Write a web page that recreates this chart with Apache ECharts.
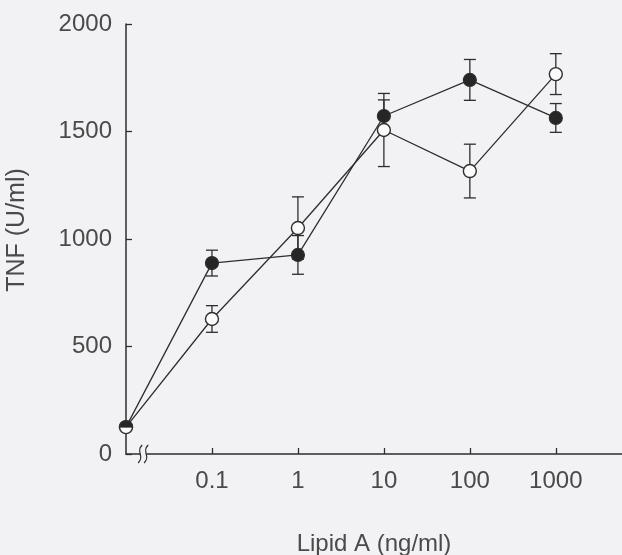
<!DOCTYPE html>
<html>
<head>
<meta charset="utf-8">
<script src="https://cdn.jsdelivr.net/npm/echarts@6/dist/echarts.min.js"></script>
<style>
  html, body { margin: 0; padding: 0; background: #f2f1f4; }
  #chart { width: 622px; height: 555px; }
</style>
</head>
<body>
<div id="chart"></div>
<script>
// Lipid A dose (ng/ml); first entry is the untreated control (0)
const doseLabels = ['0', '0.1', '1', '10', '100', '1000'];
// Axis positions: 0 = control, then one unit per decade
const dosePositions = [0, 1, 2, 3, 4, 5];

// TNF (U/ml), open circles
const openMean = [125, 628, 1051, 1507, 1316, 1767];
const openErr  = [0, 62, 145, 170, 125, 95];

// TNF (U/ml), filled circles
const filledMean = [125, 888, 926, 1572, 1740, 1563];
const filledErr  = [0, 60, 90, 75, 95, 67];

const yTicks = [0, 500, 1000, 1500, 2000];

const ink = '#2e2e2e';
const textInk = '#4a4a4a';
const paper = '#f2f1f4';
const font = 'Liberation Sans';

const chart = echarts.init(document.getElementById('chart'), null, { renderer: 'canvas' });

function points(means) {
  return dosePositions.map((x, i) => [x, means[i]]);
}
function bars(means, errs) {
  return dosePositions
    .map((x, i) => [x, means[i] - errs[i], means[i] + errs[i]])
    .filter((d, i) => errs[i] > 0);
}

function renderErrorBar(params, api) {
  const x = api.value(0);
  const lo = api.coord([x, api.value(1)]);
  const hi = api.coord([x, api.value(2)]);
  const half = 6;
  const style = { stroke: ink, lineWidth: 1.3 };
  return {
    type: 'group',
    children: [
      { type: 'line', shape: { x1: lo[0], y1: lo[1], x2: hi[0], y2: hi[1] }, style },
      { type: 'line', shape: { x1: lo[0] - half, y1: lo[1], x2: lo[0] + half, y2: lo[1] }, style },
      { type: 'line', shape: { x1: hi[0] - half, y1: hi[1], x2: hi[0] + half, y2: hi[1] }, style }
    ]
  };
}

// The control point is shared: the filled series draws only its upper half there
const filledData = points(filledMean).map((p, i) => i === 0
  ? { value: p, symbol: 'path://M0,5 A5,5 0 0 1 10,5 Z', symbolSize: [13, 6.5], symbolOffset: [0, '-50%'] }
  : p);

chart.setOption({
  backgroundColor: paper,
  animation: false,
  grid: { left: 126, right: 0, top: 24, bottom: 101, containLabel: false, outerBoundsMode: 'none' },
  xAxis: {
    type: 'value',
    min: 0,
    max: 5.77,
    interval: 1,
    name: 'Lipid A (ng/ml)',
    nameLocation: 'middle',
    nameGap: 78,
    nameTextStyle: { fontFamily: font, fontSize: 24, color: textInk },
    axisLine: { show: true, onZero: false, lineStyle: { color: ink, width: 1.5 } },
    axisTick: { show: true, inside: true, length: 6, lineStyle: { color: ink, width: 1.3 }, customValues: dosePositions.slice(1) },
    axisLabel: {
      fontFamily: font, fontSize: 24, color: textInk, margin: 15,
      customValues: dosePositions.slice(1),
      formatter: v => doseLabels[Math.round(v)]
    },
    splitLine: { show: false }
  },
  yAxis: {
    type: 'value',
    min: 0,
    max: 2000,
    interval: 500,
    name: 'TNF (U/ml)',
    nameLocation: 'middle',
    nameGap: 96,
    nameRotate: 90,
    nameTextStyle: { fontFamily: font, fontSize: 25, color: textInk, padding: [0, 0, 0, 18] },
    axisLine: { show: true, lineStyle: { color: ink, width: 1.5 } },
    axisTick: { show: true, inside: true, length: 6, lineStyle: { color: ink, width: 1.3 } },
    axisLabel: {
      fontFamily: font, fontSize: 24, color: textInk, margin: 14,
      customValues: yTicks,
      formatter: v => String(v)
    },
    splitLine: { show: false }
  },
  series: [
    {
      type: 'custom',
      name: 'open-err',
      renderItem: renderErrorBar,
      data: bars(openMean, openErr),
      z: 1
    },
    {
      type: 'custom',
      name: 'filled-err',
      renderItem: renderErrorBar,
      data: bars(filledMean, filledErr),
      z: 1
    },
    {
      type: 'line',
      name: 'open',
      data: points(openMean),
      symbol: 'circle',
      symbolSize: 13,
      lineStyle: { color: ink, width: 1.3 },
      itemStyle: { color: '#fbfbfb', borderColor: ink, borderWidth: 1.4 },
      z: 3
    },
    {
      type: 'line',
      name: 'filled',
      data: filledData,
      symbol: 'circle',
      symbolSize: 13,
      lineStyle: { color: ink, width: 1.3 },
      itemStyle: { color: '#262626', borderColor: ink, borderWidth: 1.2 },
      z: 4
    }
  ]
});

// Axis break mark on the dose axis, between the control and 0.1
function drawBreak() {
  const p = chart.convertToPixel({ xAxisIndex: 0, yAxisIndex: 0 }, [0.2, 0]);
  const x = p[0], y = p[1];
  const curve = dx => ({
    type: 'bezierCurve',
    shape: { x1: x + dx + 2, y1: y - 9, x2: x + dx - 2, y2: y + 9, cpx1: x + dx - 5, cpy1: y - 2, cpx2: x + dx + 5, cpy2: y + 2 },
    style: { stroke: ink, lineWidth: 1.3, fill: null },
    z: 10
  });
  chart.setOption({
    graphic: [
      { type: 'rect', shape: { x: x - 3, y: y - 3, width: 6, height: 6 }, style: { fill: paper }, z: 9 },
      curve(-3),
      curve(3)
    ]
  });
}
drawBreak();
</script>
</body>
</html>
